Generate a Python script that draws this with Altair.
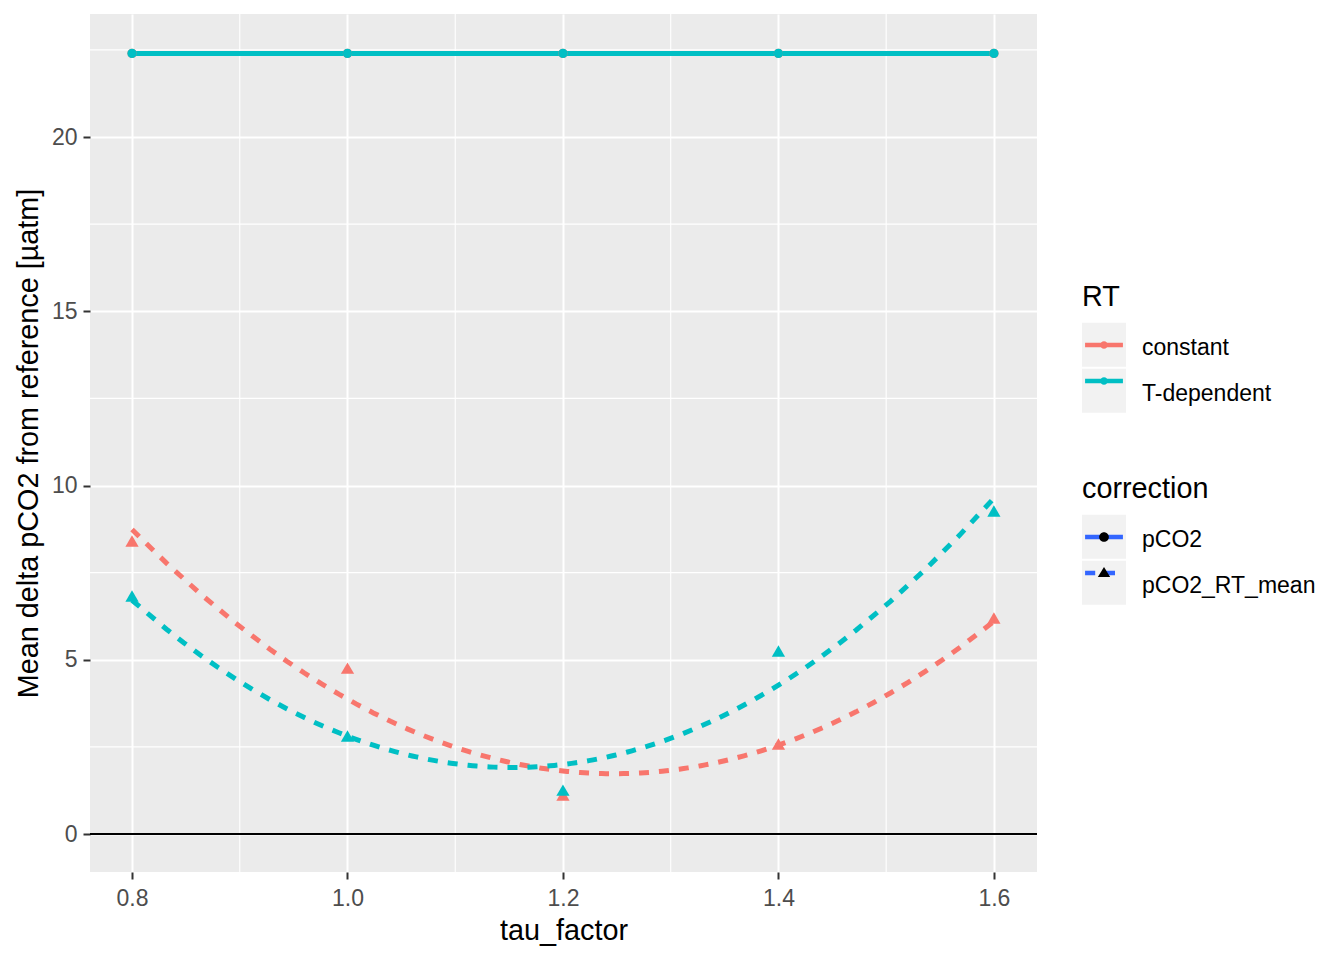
import altair as alt
import pandas as pd

# ---------------- data ----------------
tau_factor = [0.8, 1.0, 1.2, 1.4, 1.6]
rt_levels = ["constant", "T-dependent"]
corr_levels = ["pCO2", "pCO2_RT_mean"]

pco2_constant = [22.4, 22.4, 22.4, 22.4, 22.4]
pco2_tdep = [22.4, 22.4, 22.4, 22.4, 22.4]
rtmean_constant = [8.41, 4.76, 1.12, 2.58, 6.20]
rtmean_tdep = [6.83, 2.81, 1.26, 5.25, 9.27]

x_ticks = [0.8, 1.0, 1.2, 1.4, 1.6]
x_minor = [0.9, 1.1, 1.3, 1.5]
y_ticks = [0, 5, 10, 15, 20]
y_minor = [2.5, 7.5, 12.5, 17.5, 22.5]

rt_colors = ["#F8766D", "#00BFC4"]

rows = []
for corr, rt, vals in [
    ("pCO2", "constant", pco2_constant),
    ("pCO2", "T-dependent", pco2_tdep),
    ("pCO2_RT_mean", "constant", rtmean_constant),
    ("pCO2_RT_mean", "T-dependent", rtmean_tdep),
]:
    for t, v in zip(tau_factor, vals):
        rows.append({"tau_factor": t, "delta": v, "RT": rt, "correction": corr})
df = pd.DataFrame(rows)

FONT = "Liberation Sans"

xscale = alt.Scale(domain=[0.761, 1.640], nice=False, zero=False)
yscale = alt.Scale(domain=[-1.09, 23.53], nice=False, zero=False)
X = alt.X("tau_factor:Q", scale=xscale,
          axis=alt.Axis(values=x_ticks, format=".1f", title="tau_factor",
                        labelPadding=8, titleX=473.5, titleY=67,
                        titleBaseline="alphabetic", titleAlign="center"))
Y = alt.Y("delta:Q", scale=yscale,
          axis=alt.Axis(values=y_ticks, title="Mean delta pCO2 from reference [µatm]",
                        labelPadding=6, titleX=-53, titleY=429, titleAngle=270,
                        titleBaseline="alphabetic", titleAlign="center"))
color_scale = alt.Scale(domain=rt_levels, range=rt_colors)

# minor grid
minor_x = alt.Chart(pd.DataFrame({"tau_factor": x_minor})).mark_rule(
    color="white", strokeWidth=1.1).encode(x=alt.X("tau_factor:Q", scale=xscale))
minor_y = alt.Chart(pd.DataFrame({"delta": y_minor})).mark_rule(
    color="white", strokeWidth=1.1).encode(y=alt.Y("delta:Q", scale=yscale))
hline = alt.Chart(pd.DataFrame({"delta": [0]})).mark_rule(
    color="black", strokeWidth=1.8).encode(y=alt.Y("delta:Q", scale=yscale))

base = alt.Chart(df)

lines = base.transform_regression(
    "tau_factor", "delta", groupby=["RT", "correction"], method="poly", order=2
).mark_line(strokeWidth=5).encode(
    x=X, y=Y,
    color=alt.Color("RT:N", scale=color_scale, legend=None),
    strokeDash=alt.StrokeDash("correction:N",
                              scale=alt.Scale(domain=corr_levels, range=[[1, 0], [10, 10]]),
                              legend=None),
)

circles = base.transform_filter(alt.datum.correction == "pCO2").mark_point(
    filled=True, opacity=1, size=86, shape="circle").encode(
    x=X, y=Y, color=alt.Color("RT:N", scale=color_scale, legend=None))
triangles = base.transform_filter(alt.datum.correction == "pCO2_RT_mean").mark_point(
    filled=True, opacity=1, size=175, shape="triangle-up").encode(
    x=X, y=Y, color=alt.Color("RT:N", scale=color_scale, legend=None))

# ---------------- legends ----------------
LINE = "M-0.86,-0.1H0.86V0.1H-0.86Z"
DOT_S = "M0.17,0A0.17,0.17 0 1,1 -0.17,0A0.17,0.17 0 1,1 0.17,0Z"
LINE_DOT = LINE + " " + DOT_S
DASH = "M-0.86,-0.1H-0.4V0.1H-0.86Z M0.03,-0.1H0.5V0.1H0.03Z"
DOT_L = "M0.22,0A0.22,0.22 0 1,1 -0.22,0A0.22,0.22 0 1,1 0.22,0Z"
TRI = "M0,-0.27L0.28,0.18L-0.28,0.18Z"

RT_Y = 269
C_Y = 461
ENTRY_OFF = 40
LABEL_SHIFT = 3


def leg(title, y, labels=False, **kw):
    d = dict(orient="none", legendX=992, legendY=y, direction="vertical", padding=0,
             symbolSize=1936, rowPadding=2, labelOffset=16, labelFontSize=23,
             labelFont=FONT, titleFont=FONT, titleFontSize=28.8, titleFontWeight="normal",
             titlePadding=11, labelColor="black", titleColor="black",
             symbolStrokeWidth=0, labelLimit=400)
    if title is not None:
        d["title"] = title
    else:
        d["title"] = None
    if not labels:
        d["labelExpr"] = "''"
    d.update(kw)
    return alt.Legend(**d)


empty = base.transform_filter("false")

# RT legend: background keys + title, label text, coloured keys
rt_bg = empty.mark_point(filled=True, opacity=1, color="#F2F2F2").encode(
    shape=alt.Shape("RT:N", scale=alt.Scale(domain=rt_levels, range=["square", "square"]),
                    legend=leg("RT", RT_Y, symbolFillColor="#F2F2F2")))
rt_lab = empty.mark_point(filled=True, opacity=0, color="white").encode(
    shape=alt.Shape("RT:N", scale=alt.Scale(domain=rt_levels, range=["square", "square"]),
                    legend=leg(None, RT_Y + ENTRY_OFF + LABEL_SHIFT, labels=True,
                               symbolOpacity=0)))
rt_fg = empty.mark_point(filled=True, opacity=1, shape=LINE_DOT).encode(
    color=alt.Color("RT:N", scale=color_scale,
                    legend=leg(None, RT_Y + ENTRY_OFF, symbolType=LINE_DOT)))

# correction legend
c_bg = empty.mark_point(filled=True, opacity=1, color="#F2F2F2").encode(
    shape=alt.Shape("correction:N",
                    scale=alt.Scale(domain=corr_levels, range=["square", "square"]),
                    legend=leg("correction", C_Y, symbolFillColor="#F2F2F2")))
c_lab = empty.mark_point(filled=True, opacity=0, color="white").encode(
    shape=alt.Shape("correction:N",
                    scale=alt.Scale(domain=corr_levels, range=["square", "square"]),
                    legend=leg(None, C_Y + ENTRY_OFF + LABEL_SHIFT, labels=True,
                               symbolOpacity=0)))
c_line = empty.mark_point(filled=True, opacity=1, color="#3366FF").encode(
    shape=alt.Shape("correction:N",
                    scale=alt.Scale(domain=corr_levels, range=[LINE, DASH]),
                    legend=leg(None, C_Y + ENTRY_OFF, symbolFillColor="#3366FF")))
c_pt = empty.mark_point(filled=True, opacity=1, color="black").encode(
    shape=alt.Shape("correction:N",
                    scale=alt.Scale(domain=corr_levels, range=[DOT_L, TRI]),
                    legend=leg(None, C_Y + ENTRY_OFF, symbolFillColor="black")))

chart = alt.layer(
    minor_x, minor_y, hline, lines, circles, triangles,
    rt_bg, rt_lab, rt_fg, c_bg, c_lab, c_line, c_pt,
).resolve_scale(
    shape="independent", color="independent", strokeDash="independent"
).resolve_legend(
    shape="independent", color="independent"
).properties(
    width=947, height=858,
    padding={"left": 82, "top": 6, "right": 299, "bottom": 80},
    autosize=alt.AutoSizeParams(type="none"),
    view=alt.ViewBackground(fill="#EBEBEB", strokeWidth=0),
).configure(
    font=FONT
).configure_view(
    fill="#EBEBEB", strokeWidth=0
).configure_axis(
    grid=True, gridColor="white", gridWidth=2, domain=False,
    tickColor="#333333", tickSize=7, tickWidth=2,
    labelColor="#4D4D4D", labelFontSize=23, labelFont=FONT,
    titleFontSize=28.8, titleFont=FONT, titleFontWeight="normal", titleColor="black",
)

chart.save("out.html", embed_options={"renderer": "svg", "actions": False})
